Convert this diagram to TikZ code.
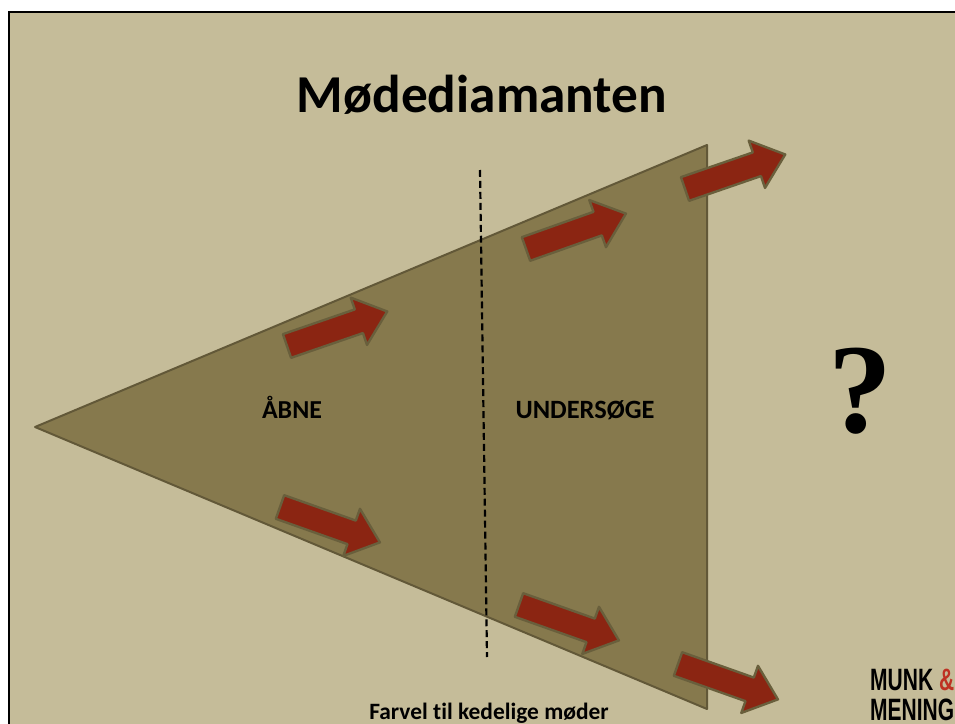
\documentclass[tikz,border=0pt]{standalone}
\usepackage{fontspec}
\setmainfont[Ligatures=NoCommon]{Carlito}
\newfontfamily\qfont{Liberation Serif}
\newfontfamily\logofont{Liberation Sans}
\usetikzlibrary{positioning}

\definecolor{slidebg}{RGB}{197,188,153}
\definecolor{olive}{RGB}{134,121,77}
\definecolor{oliveedge}{RGB}{98,88,56}
\definecolor{arrowred}{RGB}{139,37,18}
\definecolor{logored}{RGB}{190,50,35}

\tikzset{
  redarrow/.style={fill=arrowred, draw=oliveedge!80!olive, line width=2.4, line join=round},
  label/.style={font=\bfseries, inner sep=0pt}
}

% block arrow: tail centre x, y, angle
\newcommand{\blockarrow}[3]{%
  \draw [redarrow, shift={(#1,#2)}, rotate=#3]
    (0,-12.5) -- (76,-12.5) -- (76,-25) -- (106,0) -- (76,25) -- (76,12.5) -- (0,12.5) -- cycle ;}

\begin{document}
\begin{tikzpicture}[x=1bp,y=-1bp]
%\draw (0,0) grid (955,724);
\useasboundingbox (0,0) rectangle (955,724);

\fill[white] (0,0) rectangle (955,724);
\fill[slidebg] (9,12) rectangle (955,724);
\draw[line width=3] (9,724) -- (9,12) -- (955,12);

\node [label, anchor=base] (title) at (482,113) {\fontsize{53.5}{58}\selectfont Mødediamanten};

\draw [fill=olive, draw=oliveedge, line width=2, line join=round] (35,427) -- (707,145) -- (707,709) -- cycle ;

\draw [line width=2.2, dash pattern=on 7 off 4] (480,170) -- (487,657) ;

\node [label, anchor=base] (aabne) at (292,418) {\fontsize{26}{30}\selectfont ÅBNE};
\node [label, anchor=base] (undersoege) at (585,418) {\fontsize{26.5}{30}\selectfont UNDERSØGE};

\blockarrow{287}{346}{19}
\blockarrow{280}{507}{-19.5}
\blockarrow{526}{249}{19.5}
\blockarrow{519}{605}{-19.5}
\blockarrow{685}{189}{19}
\blockarrow{678}{664}{-19.5}

\node [inner sep=0pt, anchor=base] (question) at (860,432) {\fontsize{128}{130}\selectfont\qfont\bfseries ?};

\node [label, anchor=base] (footer) at (489,719) {\fontsize{23.5}{26}\selectfont Farvel til kedelige møder};

\node [inner sep=0pt, anchor=base west] (munk) at (870,690)
  {\logofont\bfseries\fontsize{31}{31}\selectfont\scalebox{0.68}[1]{MUNK \textcolor{logored}{\&}}};
\node [inner sep=0pt, anchor=base west] (mening) at (870,720)
  {\logofont\bfseries\fontsize{31}{31}\selectfont\scalebox{0.68}[1]{MENING}};
\end{tikzpicture}
\end{document}
